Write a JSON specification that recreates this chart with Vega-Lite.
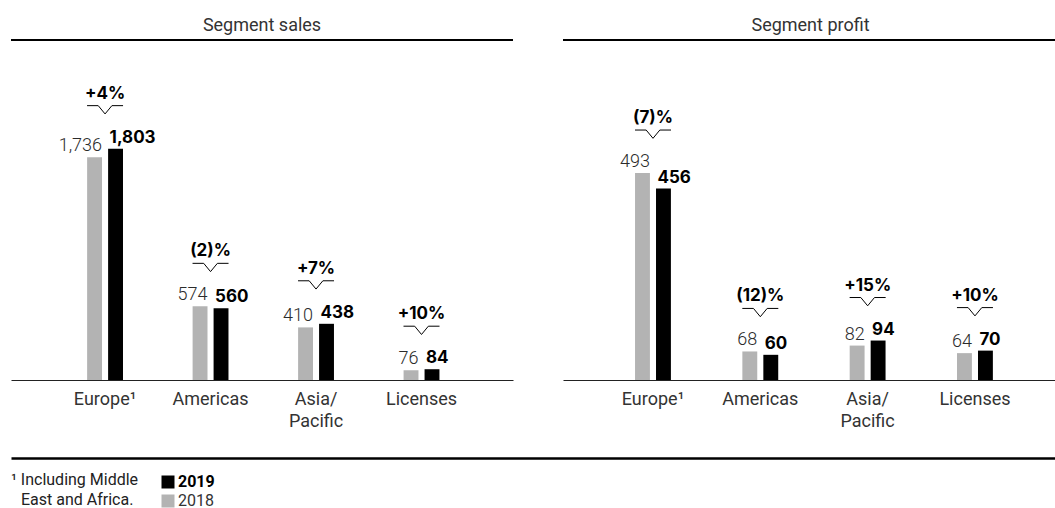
{
  "$schema": "https://vega.github.io/schema/vega-lite/v6.json",
  "padding": {"left": 10, "top": 17, "right": 0, "bottom": 0},
  "background": "white",
  "datasets": {
    "segments": [
      {"panel": "sales", "region": "Europe", "year": "2018", "value": 1736, "pct": "+4%"},
      {"panel": "sales", "region": "Europe", "year": "2019", "value": 1803, "pct": "+4%"},
      {"panel": "sales", "region": "Americas", "year": "2018", "value": 574, "pct": "(2)%"},
      {"panel": "sales", "region": "Americas", "year": "2019", "value": 560, "pct": "(2)%"},
      {"panel": "sales", "region": "Asia/Pacific", "year": "2018", "value": 410, "pct": "+7%"},
      {"panel": "sales", "region": "Asia/Pacific", "year": "2019", "value": 438, "pct": "+7%"},
      {"panel": "sales", "region": "Licenses", "year": "2018", "value": 76, "pct": "+10%"},
      {"panel": "sales", "region": "Licenses", "year": "2019", "value": 84, "pct": "+10%"},
      {"panel": "profit", "region": "Europe", "year": "2018", "value": 493, "pct": "(7)%"},
      {"panel": "profit", "region": "Europe", "year": "2019", "value": 456, "pct": "(7)%"},
      {"panel": "profit", "region": "Americas", "year": "2018", "value": 68, "pct": "(12)%"},
      {"panel": "profit", "region": "Americas", "year": "2019", "value": 60, "pct": "(12)%"},
      {"panel": "profit", "region": "Asia/Pacific", "year": "2018", "value": 82, "pct": "+15%"},
      {"panel": "profit", "region": "Asia/Pacific", "year": "2019", "value": 94, "pct": "+15%"},
      {"panel": "profit", "region": "Licenses", "year": "2018", "value": 64, "pct": "+10%"},
      {"panel": "profit", "region": "Licenses", "year": "2019", "value": 70, "pct": "+10%"}
    ]
  },
  "config": {
    "view": {"stroke": null},
    "font": "Roboto",
    "title": {"font": "Roboto", "fontSize": 18, "fontWeight": "normal", "color": "#333333", "anchor": "middle", "baseline": "alphabetic", "offset": 4},
    "axis": {"grid": false},
    "legend": {
      "title": null, "orient": "none", "legendX": 149, "legendY": 434, "direction": "vertical",
      "symbolType": "square", "symbolSize": 169, "symbolStrokeWidth": 0, "symbolOpacity": 1,
      "labelFont": "Roboto", "labelFontSize": 16, "labelColor": "#222222", "labelOffset": 2,
      "rowPadding": 3, "padding": 0, "offset": 0
    }
  },
  "spacing": 28,
  "vconcat": [
    {
      "spacing": 48,
      "hconcat": [
        {
          "width": 502, "height": 340,
          "title": "Segment sales",
          "data": {"name": "segments"},
          "transform": [{"filter": "datum.panel === 'sales'"}],
          "layer": [
            {
              "mark": {"type": "rule", "stroke": "#000000", "strokeWidth": 1.5},
              "encoding": {"y": {"datum": 2650, "type": "quantitative", "scale": {"domain": [0, 2650], "nice": false, "zero": true}, "axis": null}}
            },
            {
              "mark": {"type": "bar"},
              "encoding": {
                "x": {"field": "region", "type": "nominal", "sort": ["Europe", "Americas", "Asia/Pacific", "Licenses"], "scale": {"paddingInner": 0.461, "paddingOuter": 0.61, "align": 0.51}, "title": null,
                  "axis": {"domain": true, "domainColor": "#222222", "domainWidth": 1.2, "ticks": false, "labelAngle": 0, "labelFont": "Roboto", "labelFontSize": 18, "labelColor": "#333333", "labelPadding": 10, "labelBaseline": "top", "labelLineHeight": 22,
                    "labelExpr": "datum.value === 'Europe' ? 'Europe¹' : datum.value === 'Asia/Pacific' ? ['Asia/', 'Pacific'] : datum.value"}},
                "xOffset": {"field": "year", "type": "nominal", "scale": {"domain": ["2018", "2019"], "paddingInner": 0.29, "paddingOuter": 0.5}},
                "y": {"field": "value", "type": "quantitative", "scale": {"domain": [0, 2650], "nice": false, "zero": true}, "axis": null},
                "color": {"field": "year", "type": "nominal", "scale": {"domain": ["2019", "2018"], "range": ["#000000", "#b3b3b3"]},
                  "legend": {"encode": {"labels": {"update": {"fontWeight": {"signal": "datum.label === '2019' ? 'bold' : 'normal'"}, "fill": {"signal": "datum.label === '2019' ? '#000000' : '#333333'"}}}}}}
              }
            },
            {
              "transform": [{"filter": "datum.year === '2018'"}],
              "mark": {"type": "text", "align": "right", "baseline": "alphabetic", "dx": 7.5, "dy": -6, "font": "Roboto", "fontSize": 18, "fontWeight": 300, "color": "#2b2b2b"},
              "encoding": {
                "x": {"field": "region", "type": "nominal", "sort": ["Europe", "Americas", "Asia/Pacific", "Licenses"]},
                "xOffset": {"field": "year", "type": "nominal"},
                "y": {"field": "value", "type": "quantitative"},
                "text": {"field": "value", "type": "quantitative", "format": ",d"}
              }
            },
            {
              "transform": [{"filter": "datum.year === '2019'"}],
              "mark": {"type": "text", "align": "left", "baseline": "alphabetic", "dx": -6, "dy": -6, "font": "Inter", "fontSize": 17, "fontWeight": "bold", "color": "#000000"},
              "encoding": {
                "x": {"field": "region", "type": "nominal", "sort": ["Europe", "Americas", "Asia/Pacific", "Licenses"]},
                "xOffset": {"field": "year", "type": "nominal"},
                "y": {"field": "value", "type": "quantitative"},
                "text": {"field": "value", "type": "quantitative", "format": ",d"}
              }
            },
            {
              "mark": {"type": "text", "baseline": "alphabetic", "dy": -50, "font": "Inter", "fontSize": 17, "fontWeight": "bold", "color": "#000000"},
              "encoding": {
                "x": {"field": "region", "type": "nominal", "sort": ["Europe", "Americas", "Asia/Pacific", "Licenses"]},
                "y": {"aggregate": "max", "field": "value", "type": "quantitative"},
                "text": {"field": "pct", "type": "nominal"}
              }
            },
            {
              "mark": {"type": "point", "shape": "M-1,-2.39L-0.38,-2.39L0,-1.93L0.38,-2.39L1,-2.39", "size": 1296, "filled": false, "stroke": "#000000", "strokeWidth": 1, "opacity": 1},
              "encoding": {
                "x": {"field": "region", "type": "nominal", "sort": ["Europe", "Americas", "Asia/Pacific", "Licenses"]},
                "y": {"aggregate": "max", "field": "value", "type": "quantitative"},
                "detail": {"field": "pct", "type": "nominal"}
              }
            }
          ]
        },
        {
          "width": 495, "height": 340,
          "title": "Segment profit",
          "data": {"name": "segments"},
          "transform": [{"filter": "datum.panel === 'profit'"}],
          "layer": [
            {
              "mark": {"type": "rule", "stroke": "#000000", "strokeWidth": 1.5},
              "encoding": {"y": {"datum": 810, "type": "quantitative", "scale": {"domain": [0, 810], "nice": false, "zero": true}, "axis": null}}
            },
            {
              "mark": {"type": "bar"},
              "encoding": {
                "x": {"field": "region", "type": "nominal", "sort": ["Europe", "Americas", "Asia/Pacific", "Licenses"], "scale": {"paddingInner": 0.4697, "paddingOuter": 0.541, "align": 0.53}, "title": null,
                  "axis": {"domain": true, "domainColor": "#222222", "domainWidth": 1.2, "ticks": false, "labelAngle": 0, "labelFont": "Roboto", "labelFontSize": 18, "labelColor": "#333333", "labelPadding": 10, "labelBaseline": "top", "labelLineHeight": 22,
                    "labelExpr": "datum.value === 'Europe' ? 'Europe¹' : datum.value === 'Asia/Pacific' ? ['Asia/', 'Pacific'] : datum.value"}},
                "xOffset": {"field": "year", "type": "nominal", "scale": {"domain": ["2018", "2019"], "paddingInner": 0.29, "paddingOuter": 0.5}},
                "y": {"field": "value", "type": "quantitative", "scale": {"domain": [0, 810], "nice": false, "zero": true}, "axis": null},
                "color": {"field": "year", "type": "nominal", "scale": {"domain": ["2019", "2018"], "range": ["#000000", "#b3b3b3"]},
                  "legend": {"encode": {"labels": {"update": {"fontWeight": {"signal": "datum.label === '2019' ? 'bold' : 'normal'"}, "fill": {"signal": "datum.label === '2019' ? '#000000' : '#333333'"}}}}}}
              }
            },
            {
              "transform": [{"filter": "datum.year === '2018'"}],
              "mark": {"type": "text", "align": "right", "baseline": "alphabetic", "dx": 7.5, "dy": -6, "font": "Roboto", "fontSize": 18, "fontWeight": 300, "color": "#2b2b2b"},
              "encoding": {
                "x": {"field": "region", "type": "nominal", "sort": ["Europe", "Americas", "Asia/Pacific", "Licenses"]},
                "xOffset": {"field": "year", "type": "nominal"},
                "y": {"field": "value", "type": "quantitative"},
                "text": {"field": "value", "type": "quantitative", "format": ",d"}
              }
            },
            {
              "transform": [{"filter": "datum.year === '2019'"}],
              "mark": {"type": "text", "align": "left", "baseline": "alphabetic", "dx": -6, "dy": -6, "font": "Inter", "fontSize": 17, "fontWeight": "bold", "color": "#000000"},
              "encoding": {
                "x": {"field": "region", "type": "nominal", "sort": ["Europe", "Americas", "Asia/Pacific", "Licenses"]},
                "xOffset": {"field": "year", "type": "nominal"},
                "y": {"field": "value", "type": "quantitative"},
                "text": {"field": "value", "type": "quantitative", "format": ",d"}
              }
            },
            {
              "mark": {"type": "text", "baseline": "alphabetic", "dy": -50, "font": "Inter", "fontSize": 17, "fontWeight": "bold", "color": "#000000"},
              "encoding": {
                "x": {"field": "region", "type": "nominal", "sort": ["Europe", "Americas", "Asia/Pacific", "Licenses"]},
                "y": {"aggregate": "max", "field": "value", "type": "quantitative"},
                "text": {"field": "pct", "type": "nominal"}
              }
            },
            {
              "mark": {"type": "point", "shape": "M-1,-2.39L-0.38,-2.39L0,-1.93L0.38,-2.39L1,-2.39", "size": 1296, "filled": false, "stroke": "#000000", "strokeWidth": 1, "opacity": 1},
              "encoding": {
                "x": {"field": "region", "type": "nominal", "sort": ["Europe", "Americas", "Asia/Pacific", "Licenses"]},
                "y": {"aggregate": "max", "field": "value", "type": "quantitative"},
                "detail": {"field": "pct", "type": "nominal"}
              }
            }
          ]
        }
      ]
    },
    {
      "width": 1045, "height": 60,
      "data": {"values": [{"line": 1, "note": "¹ Including Middle"}, {"line": 2, "note": "East and Africa."}]},
      "layer": [
        {
          "transform": [{"filter": "datum.line === 1"}],
          "mark": {"type": "text", "align": "left", "baseline": "middle", "font": "Roboto", "fontSize": 16, "color": "#222222"},
          "encoding": {
            "x": {"datum": 0, "type": "quantitative", "scale": {"domain": [0, 1]}, "axis": {"orient": "top", "domain": true, "domainColor": "#000000", "domainWidth": 2.5, "ticks": false, "labels": false, "grid": false, "title": null}},
            "y": {"field": "line", "type": "ordinal", "scale": {"type": "point", "domain": [1, 2], "padding": 1, "align": 0.56}, "axis": null},
            "text": {"field": "note", "type": "nominal"}
          }
        },
        {
          "transform": [{"filter": "datum.line === 2"}],
          "mark": {"type": "text", "align": "left", "baseline": "middle", "dx": 10, "font": "Roboto", "fontSize": 16, "color": "#222222"},
          "encoding": {
            "x": {"datum": 0, "type": "quantitative", "scale": {"domain": [0, 1]}, "axis": {"orient": "top", "domain": true, "domainColor": "#000000", "domainWidth": 2.5, "ticks": false, "labels": false, "grid": false, "title": null}},
            "y": {"field": "line", "type": "ordinal", "scale": {"type": "point", "domain": [1, 2], "padding": 1, "align": 0.56}, "axis": null},
            "text": {"field": "note", "type": "nominal"}
          }
        }
      ]
    }
  ]
}
